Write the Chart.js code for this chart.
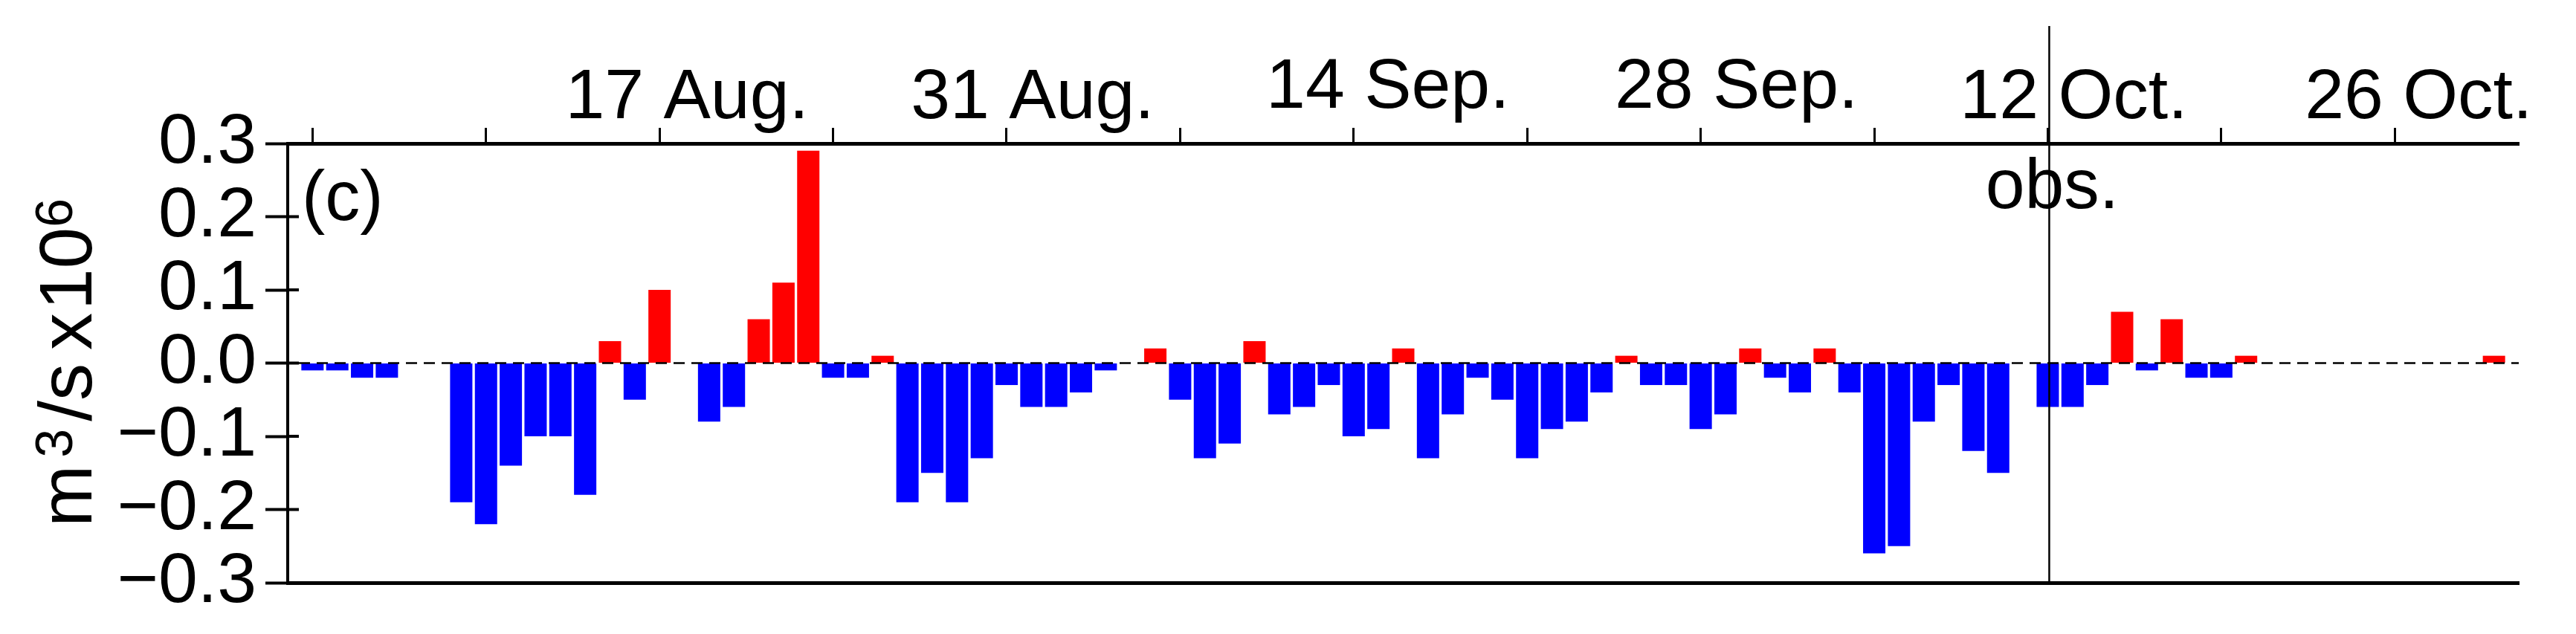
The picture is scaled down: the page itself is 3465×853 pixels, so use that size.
<!DOCTYPE html>
<html>
<head>
<meta charset="utf-8">
<script src="https://cdn.jsdelivr.net/npm/chart.js@4.4.1/dist/chart.umd.min.js"></script>
<style>
  html, body { margin: 0; padding: 0; background: #fff; }
  canvas { display: block; }
</style>
</head>
<body>
<canvas id="chart" width="3465" height="853"></canvas>
<script>
// categorias: un dia por barra, del 2 Aug al 31 Oct
const days = [];
[['Aug', 2, 31], ['Sep', 1, 30], ['Oct', 1, 31]].forEach(([m, a, b]) => {
  for (let d = a; d <= b; d++) days.push(d + ' ' + m);
});

// transporte diario (m3/s x10^6), null = sin dato
const transport = [
  null,
  -0.01, -0.01, -0.02, -0.02, null, null, -0.19,
  -0.22, -0.14, -0.10, -0.10, -0.18, 0.03, -0.05,
  0.10, null, -0.08, -0.06, 0.06, 0.11, 0.29,
  -0.02, -0.02, 0.01, -0.19, -0.15, -0.19, -0.13,
  -0.03, -0.06, -0.06, -0.04, -0.01, null, 0.02,
  -0.05, -0.13, -0.11, 0.03, -0.07, -0.06, -0.03,
  -0.10, -0.09, 0.02, -0.13, -0.07, -0.02, -0.05,
  -0.13, -0.09, -0.08, -0.04, 0.01, -0.03, -0.03,
  -0.09, -0.07, 0.02, -0.02, -0.04, 0.02, -0.04,
  -0.26, -0.25, -0.08, -0.03, -0.12, -0.15, null,
  -0.06, -0.06, -0.03, 0.07, -0.01, 0.06, -0.02,
  -0.02, 0.01, null, null, null, null, null,
  null, null, null, null, 0.01, null
];

const tickDays = ['3 Aug', '10 Aug', '17 Aug', '24 Aug', '31 Aug', '7 Sep', '14 Sep',
  '21 Sep', '28 Sep', '5 Oct', '12 Oct', '19 Oct', '26 Oct'];
const labelDays = ['17 Aug', '31 Aug', '14 Sep', '28 Sep', '12 Oct', '26 Oct'];
const labelText = ['17 Aug.', '31 Aug.', '14 Sep.', '28 Sep.', '12 Oct.', '26 Oct.'];
const obsDay = '12 Oct';

// desplazamiento de cada etiqueta respecto a su marca (solo estilo)
const labelNudge = [[37, 0], [35, 0], [46, -14], [48, -14], [35, 0], [32, 0]];

const FONT = '"Liberation Sans", Arial, sans-serif';

// dibuja lo que Chart.js no trae: linea cero, linea obs., textos
const extras = {
  id: 'extras',
  afterDatasetsDraw(chart) {
    const { ctx, chartArea: a, scales: { x, y } } = chart;
    ctx.save();
    // linea discontinua en cero
    const y0 = y.getPixelForValue(0);
    ctx.strokeStyle = '#000';
    ctx.lineWidth = 2.5;
    ctx.setLineDash([15, 9]);
    ctx.beginPath();
    ctx.moveTo(a.left + 15, y0);
    ctx.lineTo(a.right, y0);
    ctx.stroke();
    ctx.setLineDash([]);

    // marcas del eje y hacia dentro
    ctx.lineWidth = 4;
    y.ticks.forEach(t => {
      const py = y.getPixelForValue(t.value);
      ctx.beginPath();
      ctx.moveTo(a.left, py);
      ctx.lineTo(a.left + 15, py);
      ctx.stroke();
    });

    // linea vertical de la observacion
    const xo = x.getPixelForValue(days.indexOf(obsDay)) + 2;
    ctx.lineWidth = 2.5;
    ctx.beginPath();
    ctx.moveTo(xo, 35);
    ctx.lineTo(xo, a.bottom);
    ctx.stroke();

    ctx.fillStyle = '#000';
    ctx.font = '95px ' + FONT;
    ctx.textBaseline = 'alphabetic';
    ctx.textAlign = 'center';
    ctx.fillText('obs.', xo + 4, 280);

    // etiquetas de fechas arriba
    labelDays.forEach((d, i) => {
      const px = x.getPixelForValue(days.indexOf(d)) + labelNudge[i][0];
      ctx.fillText(labelText[i], px, a.top - 34 + labelNudge[i][1]);
    });

    ctx.textAlign = 'left';
    ctx.font = '94px ' + FONT;
    ctx.fillText('(c)', 406, 296);

    // titulo del eje y con superindices
    const parts = [
      ['m', 100, 0, 10], ['3', 70, 26, 10], ['/s', 100, 0, 18], ['x', 100, 0, 4],
      ['10', 100, 0, 0], ['6', 70, 26, 0]
    ];
    let total = 0;
    parts.forEach(p => {
      ctx.font = p[1] + 'px ' + FONT;
      p.push(ctx.measureText(p[0]).width);
      total += p[4] + p[3];
    });
    ctx.translate(123, 488);
    ctx.rotate(-Math.PI / 2);
    let cx = -total / 2;
    parts.forEach(p => {
      ctx.font = p[1] + 'px ' + FONT;
      ctx.fillText(p[0], cx, -p[2]);
      cx += p[4] + p[3];
    });
    ctx.restore();
  }
};

new Chart(document.getElementById('chart'), {
  type: 'bar',
  data: {
    labels: days,
    datasets: [{
      data: transport,
      backgroundColor: c => (c.raw >= 0 ? '#ff0000' : '#0000ff'),
      borderWidth: 0,
      barPercentage: 0.9,
      categoryPercentage: 1
    }]
  },
  options: {
    responsive: false,
    devicePixelRatio: 1,
    animation: false,
    layout: { padding: { left: 0, right: 77, top: 0, bottom: 0 } },
    plugins: { legend: { display: false }, tooltip: { enabled: false } },
    scales: {
      x: {
        type: 'category',
        position: 'top',
        offset: false,
        grid: {
          offset: false,
          drawOnChartArea: false,
          drawTicks: true,
          tickLength: 21,
          tickWidth: 3,
          tickColor: c => (c.tick && tickDays.includes(days[c.index]) ? '#000' : 'rgba(0,0,0,0)')
        },
        border: { display: true, color: '#000', width: 5 },
        ticks: { display: false },
        afterFit: s => { s.height = 193; }
      },
      x2: {
        type: 'category',
        position: 'bottom',
        offset: false,
        grid: { display: false },
        ticks: { display: false },
        border: { display: true, color: '#000', width: 5 },
        afterFit: s => { s.height = 59; }
      },
      y: {
        min: -0.3,
        max: 0.3,
        ticks: {
          stepSize: 0.1,
          autoSkip: false,
          color: '#000',
          padding: 12,
          font: { family: FONT, size: 95 },
          callback: v => (Math.round(v * 10) / 10).toFixed(1).replace('-', '\u2212')
        },
        grid: {
          drawOnChartArea: false,
          tickLength: 30,
          tickWidth: 4,
          tickColor: '#000'
        },
        border: { display: true, color: '#000', width: 4 },
        afterFit: s => { s.width = 387; }
      }
    }
  },
  plugins: [extras]
});
</script>
</body>
</html>
